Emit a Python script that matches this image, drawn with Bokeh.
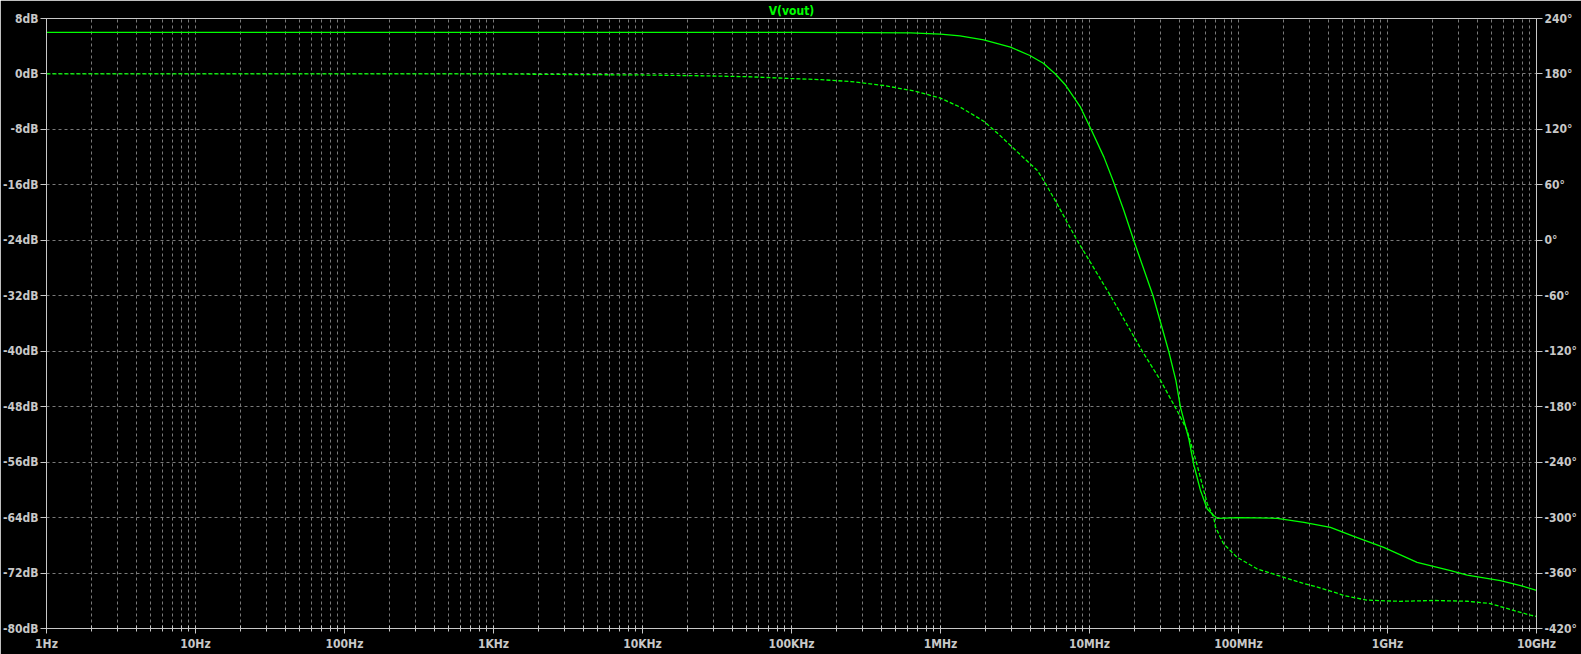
from bokeh.plotting import figure
from bokeh.models import (Range1d, LinearAxis, FixedTicker, PrintfTickFormatter,
                          CustomJSTickFormatter)
from bokeh.embed import file_html
from bokeh.resources import INLINE

# ---- data ----
mag_freq = [1, 1e5, 3.16e5, 6.3e5, 1.0e6, 1.35e6, 1.95e6, 2.95e6, 3.98e6, 4.9e6,
            5.9e6, 6.9e6, 8.7e6, 1.02e7, 1.25e7, 1.44e7, 1.70e7, 1.98e7, 2.67e7,
            3.40e7, 3.80e7, 4.08e7, 4.65e7, 5.0e7, 5.56e7, 6.17e7, 6.82e7, 7.2e7,
            1.0e8, 1.82e8, 2.75e8, 4.14e8, 5.94e8, 9.44e8, 1.58e9, 2.65e9, 3.43e9,
            5.73e9, 7.82e9, 1e10]
mag_db = [6.0, 6.0, 5.97, 5.93, 5.75, 5.5, 4.93, 3.86, 2.66, 1.55,
          0.0, -1.6, -4.8, -7.9, -12.0, -15.4, -19.7, -24.0, -32.0,
          -40.0, -44.2, -48.1, -52.7, -56.3, -60.1, -62.75, -63.7, -64.1,
          -64.0, -64.1, -64.7, -65.4, -66.7, -68.3, -70.45, -71.65, -72.3,
          -73.1, -73.8, -74.5]

ph_freq = [1, 1e3, 3.16e3, 1e4, 2.57e4, 5.13e4, 1e5, 1.58e5, 2.51e5, 4.17e5,
           6.92e5, 1e6, 1.36e6, 1.95e6, 2.51e6, 3.24e6, 4.47e6, 4.93e6, 5.89e6,
           8.26e6, 1.38e7, 2.26e7, 3.0e7, 3.5e7, 3.87e7, 4.52e7, 5.25e7, 6.17e7,
           6.82e7, 7.01e7, 7.94e7, 9.77e7, 1.33e8, 2.0e8, 2.69e8, 3.39e8, 4.37e8,
           5.09e8, 7.24e8, 1.22e9, 2.04e9, 3.43e9, 4.9e9, 6.7e9, 9.12e9, 1e10]
ph_deg = [180, 180, 179.4, 178.9, 178.0, 177.0, 175.0, 173.8, 171.8, 167.5,
          161.0, 153.8, 144.0, 128.9, 113.4, 96.4, 75.5, 64.7, 43.0,
          0.0, -59.7, -120.0, -151.7, -171.5, -184.1, -205.8, -241.8, -285.0,
          -299.6, -310.4, -328.4, -342.9, -355.4, -364.5, -371.0, -375.3, -380.7,
          -384.3, -389.3, -390.6, -389.7, -390.5, -393.0, -399.5, -405.6, -407.0]

freq_labels = ["1Hz", "10Hz", "100Hz", "1KHz", "10KHz", "100KHz", "1MHz",
               "10MHz", "100MHz", "1GHz", "10GHz"]
db_ticks = [-80, -72, -64, -56, -48, -40, -32, -24, -16, -8, 0, 8]
deg_ticks = [-420, -360, -300, -240, -180, -120, -60, 0, 60, 120, 180, 240]
title_text = "V(vout)"

GREEN = "#00ff00"
AXC = "#c8c8c8"
GRID = "#7a7a7a"
FONT = "DejaVu Sans Condensed, DejaVu Sans"

p = figure(width=1581, height=654, x_axis_type="log",
           x_range=Range1d(1, 1e10), y_range=Range1d(-80, 8),
           output_backend="svg", toolbar_location=None,
           background_fill_color="#000000", border_fill_color="#000000",
           min_border_left=46, min_border_right=45, min_border_top=0,
           min_border_bottom=26, title=title_text)
p.title.align = "center"
p.title.text_color = GREEN
p.title.text_font = FONT
p.title.text_font_style = "bold"
p.title.text_font_size = "12px"
p.title.standoff = 2
p.title.offset = 0
p.outline_line_color = AXC
p.outline_line_width = 1

p.extra_y_ranges = {"phase": Range1d(-420, 240)}

decades = [10.0 ** i for i in range(0, 11)]
minors = [m * d for d in decades[:-1] for m in range(2, 10)]

xa = p.xaxis[0]
xa.ticker = FixedTicker(ticks=decades, minor_ticks=minors)
xa.formatter = CustomJSTickFormatter(args=dict(labels=freq_labels),
                                     code="return labels[Math.round(Math.log10(tick))];")
ya = p.yaxis[0]
ya.ticker = FixedTicker(ticks=db_ticks)
ya.formatter = PrintfTickFormatter(format="%ddB")

ra = LinearAxis(y_range_name="phase")
ra.ticker = FixedTicker(ticks=deg_ticks)
ra.formatter = PrintfTickFormatter(format="%d°")
p.add_layout(ra, "right")

for ax in [xa, ya, ra]:
    ax.axis_line_color = AXC
    ax.major_tick_line_color = AXC
    ax.minor_tick_line_color = AXC
    ax.major_label_text_color = AXC
    ax.major_label_text_font = FONT
    ax.major_label_text_font_style = "bold"
    ax.major_label_text_font_size = "12px"
    ax.major_tick_in = 0
    ax.major_tick_out = 6
    ax.major_label_standoff = 2
    ax.minor_tick_in = 0
    ax.minor_tick_out = 0
xa.major_tick_in = 3
xa.major_tick_out = 5
xa.minor_tick_in = 3
xa.minor_tick_out = 3
xa.major_label_standoff = 3

p.xgrid.grid_line_color = GRID
p.xgrid.grid_line_dash = "3 3"
p.xgrid.minor_grid_line_color = GRID
p.xgrid.minor_grid_line_dash = "3 3"
p.ygrid.grid_line_color = GRID
p.ygrid.grid_line_dash = "3 3"

p.line(mag_freq, mag_db, line_color=GREEN, line_width=1.3)
p.line(ph_freq, ph_deg, y_range_name="phase", line_color=GREEN,
       line_width=1.3, line_dash="4 2")

open("out.html", "w").write(file_html(p, INLINE))
